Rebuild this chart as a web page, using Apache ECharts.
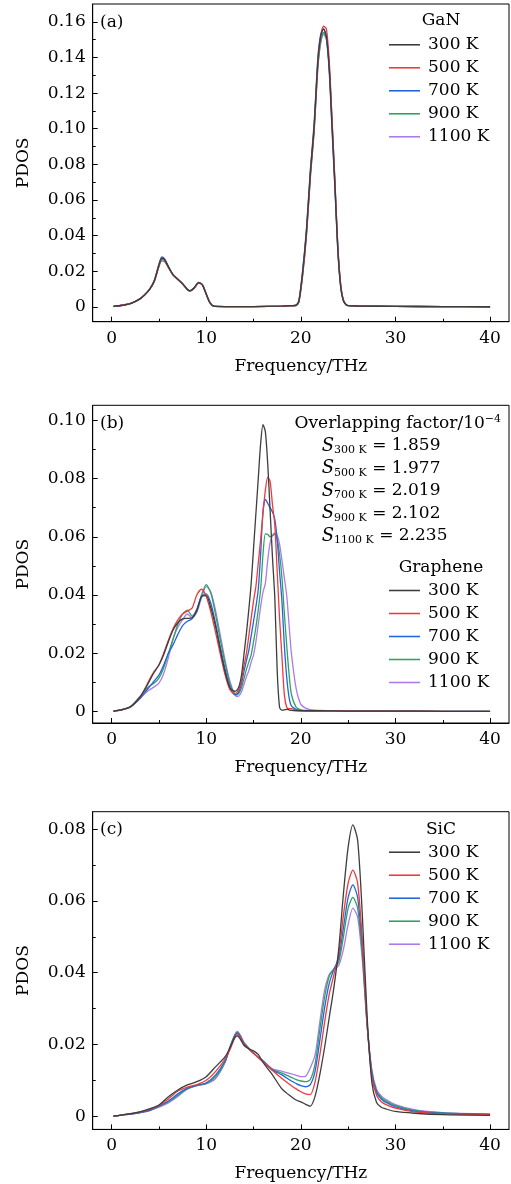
<!DOCTYPE html>
<html>
<head>
<meta charset="utf-8">
<script src="https://cdn.jsdelivr.net/npm/echarts@6/dist/echarts.min.js"></script>
<style>html,body{margin:0;padding:0;background:#fff}#c{width:511px;height:1184px}</style>
</head>
<body>
<div id="c"></div>
<script>
// ---------- data ----------
const seriesNames = ['300 K', '500 K', '700 K', '900 K', '1100 K'];
const xTicks = [0, 10, 20, 30, 40];
const xMinorTicks = [5, 15, 25, 35];
const yTicksA = [0, 0.02, 0.04, 0.06, 0.08, 0.10, 0.12, 0.14, 0.16];
const yMinorA = [0.01, 0.03, 0.05, 0.07, 0.09, 0.11, 0.13, 0.15];
const yTicksB = [0, 0.02, 0.04, 0.06, 0.08, 0.10];
const yMinorB = [0.01, 0.03, 0.05, 0.07, 0.09];
const yTicksC = [0, 0.02, 0.04, 0.06, 0.08];
const yMinorC = [0.01, 0.03, 0.05, 0.07];
const overlapFactors = ['1.859', '1.977', '2.019', '2.102', '2.235'];

// (a) GaN
const freqA = [0.2, 1, 2, 3, 3.5, 4, 4.5, 5, 5.3, 5.6, 6, 6.5, 7, 7.5, 8, 8.3, 8.7, 9.2, 9.6, 10, 10.4, 10.8, 12, 15, 18, 19, 19.5, 19.8, 20.2, 20.6, 21, 21.4, 21.8, 22.1, 22.4, 22.7, 23, 23.3, 23.6, 23.9, 24.2, 24.5, 24.9, 26, 30, 35, 40];
const gan300 = [0.0003, 0.0008, 0.0018, 0.0045, 0.0068, 0.0098, 0.0145, 0.0235, 0.0272, 0.0265, 0.0225, 0.0180, 0.0155, 0.0130, 0.0098, 0.0090, 0.0105, 0.0136, 0.0122, 0.0070, 0.0022, 0.0004, 0.0002, 0.0002, 0.0004, 0.0007, 0.0010, 0.0035, 0.0200, 0.0430, 0.0750, 0.1010, 0.1380, 0.1520, 0.1560, 0.1520, 0.1340, 0.1010, 0.0680, 0.0330, 0.0120, 0.0035, 0.0008, 0.0005, 0.0003, 0.0002, 0.0001];
const gan500 = [0.0003, 0.0010, 0.0020, 0.0046, 0.0068, 0.0097, 0.0143, 0.0230, 0.0268, 0.0262, 0.0223, 0.0179, 0.0154, 0.0129, 0.0097, 0.0089, 0.0103, 0.0134, 0.0124, 0.0073, 0.0024, 0.0004, 0.0002, 0.0002, 0.0004, 0.0006, 0.0008, 0.0030, 0.0185, 0.0410, 0.0730, 0.0990, 0.1360, 0.1520, 0.1575, 0.1560, 0.1380, 0.1050, 0.0710, 0.0350, 0.0130, 0.0038, 0.0008, 0.0005, 0.0003, 0.0002, 0.0001];
const gan700 = [0.0003, 0.0008, 0.0018, 0.0045, 0.0069, 0.0099, 0.0148, 0.0240, 0.0280, 0.0270, 0.0227, 0.0181, 0.0156, 0.0131, 0.0099, 0.0091, 0.0106, 0.0138, 0.0123, 0.0071, 0.0022, 0.0004, 0.0002, 0.0002, 0.0004, 0.0007, 0.0010, 0.0038, 0.0210, 0.0445, 0.0765, 0.1030, 0.1400, 0.1530, 0.1560, 0.1510, 0.1320, 0.0990, 0.0665, 0.0320, 0.0115, 0.0033, 0.0008, 0.0005, 0.0003, 0.0002, 0.0001];
const gan900 = [0.0003, 0.0009, 0.0020, 0.0046, 0.0068, 0.0096, 0.0140, 0.0225, 0.0258, 0.0255, 0.0220, 0.0178, 0.0153, 0.0129, 0.0098, 0.0090, 0.0104, 0.0135, 0.0125, 0.0074, 0.0025, 0.0005, 0.0002, 0.0002, 0.0004, 0.0006, 0.0007, 0.0028, 0.0180, 0.0405, 0.0720, 0.0980, 0.1340, 0.1490, 0.1540, 0.1510, 0.1350, 0.1040, 0.0700, 0.0345, 0.0128, 0.0038, 0.0009, 0.0005, 0.0003, 0.0002, 0.0001];
const gan1100 = [0.0003, 0.0008, 0.0018, 0.0044, 0.0067, 0.0097, 0.0144, 0.0232, 0.0270, 0.0266, 0.0226, 0.0181, 0.0156, 0.0131, 0.0099, 0.0091, 0.0106, 0.0137, 0.0125, 0.0074, 0.0024, 0.0004, 0.0002, 0.0002, 0.0004, 0.0007, 0.0009, 0.0033, 0.0195, 0.0425, 0.0745, 0.1000, 0.1360, 0.1480, 0.1530, 0.1500, 0.1340, 0.1030, 0.0700, 0.0345, 0.0130, 0.0040, 0.0009, 0.0005, 0.0003, 0.0001, 0.0000];

// (b) Graphene
const freqB = [0.2, 1, 2, 3, 3.5, 4, 4.5, 5, 5.5, 6, 6.5, 7, 7.5, 8, 8.5, 9, 9.5, 10, 10.5, 11, 11.5, 12, 12.5, 13, 13.25, 13.5, 13.75, 14, 14.25, 14.5, 14.75, 15, 15.25, 15.5, 15.75, 16, 16.25, 16.5, 16.75, 17, 17.25, 17.5, 17.75, 18, 18.25, 18.5, 18.75, 19, 19.5, 20, 20.5, 21, 22, 25, 30, 35, 40];
const gra300 = [0.0002, 0.0006, 0.0017, 0.0050, 0.0075, 0.0105, 0.0135, 0.0160, 0.0195, 0.0240, 0.0280, 0.0305, 0.0318, 0.0320, 0.0322, 0.0345, 0.0395, 0.0398, 0.0355, 0.0290, 0.0210, 0.0135, 0.0082, 0.0070, 0.0074, 0.0090, 0.0130, 0.0200, 0.0270, 0.0350, 0.0440, 0.0560, 0.0680, 0.0800, 0.0920, 0.0985, 0.0960, 0.0850, 0.0690, 0.0530, 0.0390, 0.0140, 0.0015, 0.0005, 0.0006, 0.0008, 0.0006, 0.0004, 0.0003, 0.0003, 0.0003, 0.0003, 0.0003, 0.0002, 0.0002, 0.0001, 0.0001];
const gra500 = [0.0002, 0.0006, 0.0017, 0.0050, 0.0078, 0.0110, 0.0138, 0.0160, 0.0200, 0.0245, 0.0285, 0.0315, 0.0335, 0.0345, 0.0355, 0.0400, 0.0420, 0.0395, 0.0340, 0.0270, 0.0195, 0.0125, 0.0075, 0.0062, 0.0066, 0.0080, 0.0110, 0.0160, 0.0200, 0.0260, 0.0320, 0.0380, 0.0430, 0.0510, 0.0590, 0.0680, 0.0760, 0.0804, 0.0790, 0.0710, 0.0640, 0.0480, 0.0320, 0.0190, 0.0060, 0.0015, 0.0010, 0.0010, 0.0005, 0.0003, 0.0003, 0.0003, 0.0003, 0.0002, 0.0002, 0.0001, 0.0001];
const gra700 = [0.0002, 0.0006, 0.0016, 0.0045, 0.0065, 0.0085, 0.0105, 0.0125, 0.0160, 0.0200, 0.0230, 0.0265, 0.0295, 0.0310, 0.0318, 0.0350, 0.0395, 0.0404, 0.0370, 0.0300, 0.0220, 0.0145, 0.0085, 0.0058, 0.0060, 0.0072, 0.0100, 0.0140, 0.0175, 0.0210, 0.0260, 0.0310, 0.0360, 0.0420, 0.0540, 0.0690, 0.0728, 0.0715, 0.0700, 0.0685, 0.0660, 0.0590, 0.0480, 0.0380, 0.0230, 0.0120, 0.0050, 0.0020, 0.0008, 0.0004, 0.0003, 0.0003, 0.0003, 0.0002, 0.0002, 0.0001, 0.0001];
const gra900 = [0.0001, 0.0006, 0.0018, 0.0052, 0.0072, 0.0088, 0.0098, 0.0115, 0.0150, 0.0200, 0.0250, 0.0300, 0.0335, 0.0348, 0.0328, 0.0350, 0.0400, 0.0436, 0.0405, 0.0330, 0.0245, 0.0165, 0.0095, 0.0060, 0.0058, 0.0065, 0.0085, 0.0115, 0.0145, 0.0170, 0.0195, 0.0240, 0.0290, 0.0350, 0.0420, 0.0540, 0.0610, 0.0608, 0.0600, 0.0604, 0.0608, 0.0590, 0.0540, 0.0460, 0.0340, 0.0230, 0.0130, 0.0060, 0.0015, 0.0006, 0.0004, 0.0003, 0.0003, 0.0002, 0.0002, 0.0001, 0.0001];
const gra1100 = [0.0001, 0.0005, 0.0016, 0.0045, 0.0062, 0.0075, 0.0085, 0.0098, 0.0130, 0.0185, 0.0250, 0.0290, 0.0315, 0.0335, 0.0322, 0.0340, 0.0390, 0.0430, 0.0410, 0.0345, 0.0260, 0.0175, 0.0105, 0.0060, 0.0052, 0.0055, 0.0070, 0.0095, 0.0120, 0.0140, 0.0170, 0.0195, 0.0240, 0.0300, 0.0360, 0.0410, 0.0440, 0.0520, 0.0580, 0.0605, 0.0612, 0.0605, 0.0575, 0.0520, 0.0460, 0.0400, 0.0300, 0.0200, 0.0080, 0.0025, 0.0012, 0.0007, 0.0004, 0.0003, 0.0002, 0.0001, 0.0001];

// (c) SiC
const freqC = [0.2, 1, 2, 3, 4, 5, 6, 7, 8, 9, 10, 11, 12, 12.5, 13, 13.3, 13.6, 14, 14.5, 15, 15.5, 16, 17, 18, 19, 19.5, 20, 20.5, 21, 21.5, 22, 22.5, 23, 23.5, 24, 24.5, 25, 25.5, 26, 26.5, 27, 27.5, 28, 28.5, 29, 30, 32, 35, 40];
const sic300 = [0.0000, 0.0003, 0.0007, 0.0012, 0.0020, 0.0031, 0.0054, 0.0073, 0.0087, 0.0096, 0.0110, 0.0138, 0.0166, 0.0190, 0.0218, 0.0224, 0.0215, 0.0197, 0.0188, 0.0182, 0.0172, 0.0150, 0.0115, 0.0076, 0.0054, 0.0045, 0.0040, 0.0033, 0.0028, 0.0055, 0.0115, 0.0190, 0.0275, 0.0360, 0.0465, 0.0620, 0.0750, 0.0812, 0.0770, 0.0560, 0.0280, 0.0095, 0.0038, 0.0025, 0.0020, 0.0013, 0.0008, 0.0004, 0.0002];
const sic500 = [0.0000, 0.0003, 0.0007, 0.0012, 0.0019, 0.0030, 0.0048, 0.0070, 0.0081, 0.0088, 0.0100, 0.0125, 0.0160, 0.0185, 0.0218, 0.0228, 0.0220, 0.0200, 0.0187, 0.0175, 0.0163, 0.0152, 0.0127, 0.0105, 0.0085, 0.0076, 0.0068, 0.0062, 0.0060, 0.0095, 0.0170, 0.0260, 0.0340, 0.0395, 0.0450, 0.0560, 0.0650, 0.0686, 0.0650, 0.0490, 0.0260, 0.0110, 0.0058, 0.0040, 0.0032, 0.0022, 0.0012, 0.0007, 0.0004];
const sic700 = [0.0000, 0.0003, 0.0006, 0.0010, 0.0016, 0.0028, 0.0042, 0.0062, 0.0078, 0.0086, 0.0093, 0.0115, 0.0155, 0.0190, 0.0222, 0.0232, 0.0222, 0.0202, 0.0188, 0.0175, 0.0164, 0.0153, 0.0129, 0.0115, 0.0098, 0.0091, 0.0085, 0.0082, 0.0088, 0.0125, 0.0210, 0.0300, 0.0370, 0.0410, 0.0440, 0.0525, 0.0610, 0.0645, 0.0610, 0.0470, 0.0260, 0.0120, 0.0065, 0.0048, 0.0038, 0.0026, 0.0014, 0.0008, 0.0005];
const sic900 = [0.0000, 0.0003, 0.0006, 0.0010, 0.0016, 0.0027, 0.0040, 0.0058, 0.0076, 0.0085, 0.0091, 0.0110, 0.0152, 0.0192, 0.0225, 0.0234, 0.0224, 0.0204, 0.0189, 0.0175, 0.0164, 0.0154, 0.0130, 0.0120, 0.0108, 0.0102, 0.0098, 0.0096, 0.0102, 0.0145, 0.0240, 0.0330, 0.0390, 0.0411, 0.0430, 0.0500, 0.0580, 0.0610, 0.0580, 0.0450, 0.0255, 0.0125, 0.0070, 0.0052, 0.0042, 0.0029, 0.0016, 0.0009, 0.0005];
const sic1100 = [0.0000, 0.0003, 0.0006, 0.0010, 0.0015, 0.0025, 0.0037, 0.0055, 0.0075, 0.0085, 0.0090, 0.0105, 0.0150, 0.0192, 0.0226, 0.0236, 0.0226, 0.0205, 0.0190, 0.0176, 0.0165, 0.0155, 0.0132, 0.0125, 0.0118, 0.0114, 0.0110, 0.0111, 0.0135, 0.0170, 0.0262, 0.0350, 0.0395, 0.0410, 0.0420, 0.0465, 0.0535, 0.0580, 0.0555, 0.0435, 0.0255, 0.0130, 0.0075, 0.0056, 0.0046, 0.0032, 0.0018, 0.0010, 0.0006];

// ---------- styling ----------
const FONT = 'DejaVu Serif';
const FS = 17;
const colors = ['#3d3d3d', '#f03a3a', '#2266dd', '#2ea35f', '#ad7be9'];

const panels = [
  {freq: freqA, vals: [gan300, gan500, gan700, gan900, gan1100], top: 4, yMin: -0.0083, yMax: 0.17, yTicks: yTicksA, yMinor: yMinorA},
  {freq: freqB, vals: [gra300, gra500, gra700, gra900, gra1100], top: 405.3, yMin: -0.0039, yMax: 0.1051, yTicks: yTicksB, yMinor: yMinorB},
  {freq: freqC, vals: [sic300, sic500, sic700, sic900, sic1100], top: 811.7, yMin: -0.0037, yMax: 0.0849, yTicks: yTicksC, yMinor: yMinorC}
];
const GL = 92.7, GW = 416.3, GH = 317.7;

const grid = [], xAxis = [], yAxis = [], series = [], legend = [];
const txt = {fontFamily: FONT, fontSize: FS, color: '#000'};
const fmtY = v => v === 0 ? '0' : v.toFixed(2);
const tickLine = {color: '#000', width: 1};

panels.forEach((p, i) => {
  // main grid (with frame) and an identical overlay grid carrying the minor ticks
  grid.push({left: GL, top: p.top, width: GW, height: GH, show: true, borderColor: '#000', borderWidth: 1, backgroundColor: 'transparent'});
  grid.push({left: GL, top: p.top, width: GW, height: GH, show: false});
  const gMain = 2 * i, gMinor = 2 * i + 1;
  xAxis.push({
    type: 'value', gridIndex: gMain, min: -2, max: 42, position: 'bottom',
    axisLine: {show: true, onZero: false, lineStyle: {color: '#000', width: 1}},
    axisTick: {show: true, inside: true, length: 5, customValues: xTicks, lineStyle: tickLine},
    axisLabel: Object.assign({customValues: xTicks, margin: 8}, txt),
    splitLine: {show: false},
    name: 'Frequency/THz', nameLocation: 'middle', nameGap: 36, nameTextStyle: txt
  });
  xAxis.push({
    type: 'value', gridIndex: gMinor, min: -2, max: 42, position: 'bottom',
    axisLine: {show: false, onZero: false},
    axisTick: {show: true, inside: true, length: 3, customValues: xMinorTicks, lineStyle: tickLine},
    axisLabel: {show: false}, splitLine: {show: false}
  });
  yAxis.push({
    type: 'value', gridIndex: gMain, min: p.yMin, max: p.yMax, position: 'left',
    axisLine: {show: true, onZero: false, lineStyle: {color: '#000', width: 1}},
    axisTick: {show: true, inside: true, length: 5, customValues: p.yTicks, lineStyle: tickLine},
    axisLabel: Object.assign({customValues: p.yTicks, margin: 7, formatter: fmtY}, txt),
    splitLine: {show: false},
    name: 'PDOS', nameLocation: 'middle', nameGap: 61, nameTextStyle: txt
  });
  yAxis.push({
    type: 'value', gridIndex: gMinor, min: p.yMin, max: p.yMax, position: 'left',
    axisLine: {show: false, onZero: false},
    axisTick: {show: true, inside: true, length: 3, customValues: p.yMinor, lineStyle: tickLine},
    axisLabel: {show: false}, splitLine: {show: false}
  });
  p.vals.forEach((vals, k) => {
    series.push({
      type: 'line', name: seriesNames[k], xAxisIndex: 2 * i, yAxisIndex: 2 * i,
      data: p.freq.map((f, j) => [f, vals[j]]),
      symbol: 'none', smooth: 0.25, lineStyle: {color: colors[k], width: 1.3}, itemStyle: {color: colors[k]},
      z: 10 - k
    });
  });
});

const legendTops = [36.3, 582, 843.7];
legendTops.forEach(t => {
  legend.push({
    data: seriesNames, orient: 'vertical', left: 389, top: t, padding: 0,
    icon: 'path://M0,0H100V5H0Z',
    itemWidth: 31, itemHeight: 14, itemGap: 6, selectedMode: false,
    textStyle: Object.assign({padding: [0, 0, 0, 3]}, txt)
  });
});

const graphic = [];
const plain = (text, x, y, align) => ({type: 'text', x, y, z: 100,
  style: {text, fontFamily: FONT, fontSize: FS, fill: '#000', align: align || 'left', verticalAlign: 'middle'}});
graphic.push(plain('(a)', 100, 22.3));
graphic.push(plain('(b)', 100, 423.3));
graphic.push(plain('(c)', 100, 829.3));
graphic.push(plain('GaN', 441, 21, 'center'));
graphic.push(plain('Graphene', 441, 567.7, 'center'));
graphic.push(plain('SiC', 441, 829.3, 'center'));
// overlapping factor block
graphic.push({type: 'text', x: 501, y: 423.3, z: 100, style: {
  text: '{m|Overlapping factor/10}{sup|−4}', align: 'right', verticalAlign: 'middle',
  rich: {m: {fontFamily: FONT, fontSize: FS, fill: '#000', lineHeight: 20}, sup: {fontFamily: FONT, fontSize: 11, fill: '#000', verticalAlign: 'top', lineHeight: 12}}
}});
const sY = [446, 468.3, 491, 513.3, 536];
seriesNames.forEach((n, k) => {
  graphic.push({type: 'text', x: 321.7, y: sY[k], z: 100, style: {
    text: '{s|S}{sub|' + n + '}{m| = ' + overlapFactors[k] + '}', verticalAlign: 'middle',
    rich: {
      s: {fontFamily: FONT, fontStyle: 'italic', fontSize: FS + 1, fill: '#000', lineHeight: 20},
      sub: {fontFamily: FONT, fontSize: 11, fill: '#000', verticalAlign: 'bottom', lineHeight: 11},
      m: {fontFamily: FONT, fontSize: FS, fill: '#000', lineHeight: 20}
    }
  }});
});

const chart = echarts.init(document.getElementById('c'), null, {renderer: 'canvas'});
chart.setOption({
  animation: false, backgroundColor: '#fff',
  grid, xAxis, yAxis, series, legend, graphic
});
</script>
</body>
</html>
